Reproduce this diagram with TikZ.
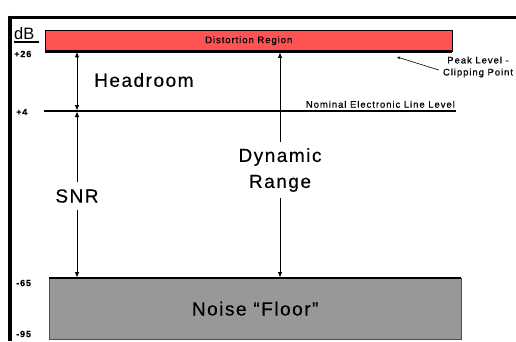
\documentclass[tikz,border=0pt]{standalone}
\usepackage{fontspec}
\setmainfont{Liberation Sans}
\newfontfamily\bigfont[LetterSpace=8,FakeBold=0.4]{Liberation Sans}
\newfontfamily\smallfont[LetterSpace=10,FakeBold=0.6]{Liberation Sans}
\usetikzlibrary{arrows.meta,positioning}
\definecolor{clipred}{RGB}{255,82,82}
\definecolor{floorgray}{RGB}{152,152,152}

\begin{document}
\begin{tikzpicture}[x=1pt,y=-1pt,
	big/.style={font=\bigfont\fontsize{19}{26}\selectfont, inner sep=7pt},
	small/.style={font=\smallfont\fontsize{9.5}{12}\selectfont, inner sep=0pt},
	level/.style={font=\smallfont\bfseries\fontsize{9}{10}\selectfont, inner sep=0pt, anchor=west},
	dim/.style={line width=0.9pt},
	>={Triangle[length=5pt,width=4pt]}]
	\useasboundingbox (0,0) rectangle (516,341);
	% frame
	\draw[line width=3pt] (8,17) -- (516,17);
	\draw[line width=4pt] (10,15.5) -- (10,341);
	% dB scale
	\node[font=\fontsize{16.5}{18}\selectfont, anchor=south west, inner sep=0pt] (db) at (14,40) {dB};
	\draw[line width=1.2pt] ([yshift=-2pt]db.south west) -- ([yshift=-2pt,xshift=4pt]db.south east);
	\node[level] (l26) at (14,54) {+26};
	\node[level] (l4) at (16,112) {+4};
	\node[level] (l65) at (16,283) {-65};
	\node[level] (l95) at (16,334) {-95};
	% bands
	\node[draw, fill=clipred, minimum width=407pt, minimum height=21pt, anchor=north west, small] (dist) at (45,30) {Distortion Region};
	\draw[line width=3pt] (dist.south west) -- (dist.south east);
	\coordinate (nomL) at (44,111);
	\coordinate (nomR) at (456,111);
	\draw[line width=2pt] (nomL) -- (nomR);
	\node[small, anchor=south east] (nom) at (455,108) {Nominal Electronic Line Level};
	\node[draw=black!70, fill=floorgray, minimum width=412pt, minimum height=61pt, anchor=north west, big] (floor) at (49,278) {Noise “Floor”};
	\draw[line width=2.5pt] (floor.north west) -- (floor.north east);
	% peak
	\node[small, align=center] (peak) at (478,67) {Peak Level -\\Clipping Point};
	\coordinate (clip) at (397,57);
	\draw[line width=0.6pt, -{Triangle[length=3pt,width=2.5pt]}] ([xshift=-4pt,yshift=-3pt]peak.west) -- (clip);
	% dimensions
	\coordinate (hr) at (77,80);
	\node[big, anchor=west, inner sep=0pt] (head) at (94,80) {Headroom};
	\draw[dim, <->, shorten <=1pt, shorten >=1pt] (dist.south -| hr) -- (nomL -| hr);
	\node[big] (snr) at (77,196) {SNR};
	\draw[dim, <-, shorten <=1pt] (nomL -| snr) -- (snr);
	\draw[dim, ->, shorten >=1pt] (snr) -- (floor.north -| snr);
	\node[big, align=center, inner sep=6pt] (range) at (280,170) {Dynamic\\Range};
	\draw[dim, <-, shorten <=1.5pt] (dist.south -| range) -- (range);
	\draw[dim, ->, shorten >=1pt] (range) -- (floor.north -| range);
\end{tikzpicture}
\end{document}
